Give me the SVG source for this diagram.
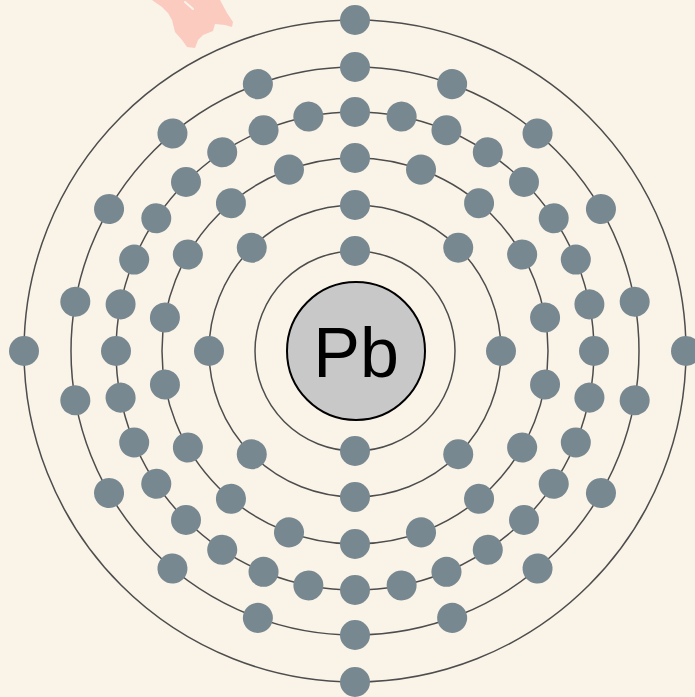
<svg xmlns="http://www.w3.org/2000/svg" width="695" height="697" viewBox="0 0 695 697">
<style>
.ring{fill:none;stroke:#4d4d4d;stroke-width:1.5}
.e{fill:#788890}
.nuc{fill:#c8c8c8;stroke:#000;stroke-width:2}
.lbl{font-family:"Liberation Sans",Arial,sans-serif;font-size:70px;fill:#000}
</style>
<rect width="695" height="697" fill="#faf3e8"/>
<path d="M152,0 L162,7 L168,13 L172,20 L175,32 L182,40 L187,47 L195,48 L198,40 L203,35 L208,33 L213,31 L215,24 L225,25 L232,27 L233,22 L227,13 L220,0 Z" fill="#fccbc0"/>
<path d="M185,2 L193,9" stroke="#faf3e8" stroke-width="2" stroke-linecap="round"/>
<g id="connectors">
<circle class="ring" cx="355" cy="351" r="100"/>
<circle class="ring" cx="355" cy="351" r="146"/>
<circle class="ring" cx="355" cy="351" r="193"/>
<circle class="ring" cx="355" cy="351" r="239"/>
<circle class="ring" cx="355" cy="351" r="284"/>
<circle class="ring" cx="355" cy="351" r="331"/>
</g>
<g id="nucleus">
<circle class="nuc" cx="356" cy="351" r="69"/>
<text class="lbl" x="356" y="377" text-anchor="middle">Pb</text>
</g>
<g id="shell1">
<circle class="e" cx="355" cy="251" r="15"/>
<circle class="e" cx="355" cy="251" r="15" transform="rotate(180 355 351)"/>
</g>
<g id="shell2">
<circle class="e" cx="355" cy="205" r="15"/>
<circle class="e" cx="355" cy="205" r="15" transform="rotate(45 355 351)"/>
<circle class="e" cx="355" cy="205" r="15" transform="rotate(90 355 351)"/>
<circle class="e" cx="355" cy="205" r="15" transform="rotate(135 355 351)"/>
<circle class="e" cx="355" cy="205" r="15" transform="rotate(180 355 351)"/>
<circle class="e" cx="355" cy="205" r="15" transform="rotate(225 355 351)"/>
<circle class="e" cx="355" cy="205" r="15" transform="rotate(270 355 351)"/>
<circle class="e" cx="355" cy="205" r="15" transform="rotate(315 355 351)"/>
</g>
<g id="shell3">
<circle class="e" cx="355" cy="158" r="15"/>
<circle class="e" cx="355" cy="158" r="15" transform="rotate(20 355 351)"/>
<circle class="e" cx="355" cy="158" r="15" transform="rotate(40 355 351)"/>
<circle class="e" cx="355" cy="158" r="15" transform="rotate(60 355 351)"/>
<circle class="e" cx="355" cy="158" r="15" transform="rotate(80 355 351)"/>
<circle class="e" cx="355" cy="158" r="15" transform="rotate(100 355 351)"/>
<circle class="e" cx="355" cy="158" r="15" transform="rotate(120 355 351)"/>
<circle class="e" cx="355" cy="158" r="15" transform="rotate(140 355 351)"/>
<circle class="e" cx="355" cy="158" r="15" transform="rotate(160 355 351)"/>
<circle class="e" cx="355" cy="158" r="15" transform="rotate(180 355 351)"/>
<circle class="e" cx="355" cy="158" r="15" transform="rotate(200 355 351)"/>
<circle class="e" cx="355" cy="158" r="15" transform="rotate(220 355 351)"/>
<circle class="e" cx="355" cy="158" r="15" transform="rotate(240 355 351)"/>
<circle class="e" cx="355" cy="158" r="15" transform="rotate(260 355 351)"/>
<circle class="e" cx="355" cy="158" r="15" transform="rotate(280 355 351)"/>
<circle class="e" cx="355" cy="158" r="15" transform="rotate(300 355 351)"/>
<circle class="e" cx="355" cy="158" r="15" transform="rotate(320 355 351)"/>
<circle class="e" cx="355" cy="158" r="15" transform="rotate(340 355 351)"/>
</g>
<g id="shell4">
<circle class="e" cx="355" cy="112" r="15"/>
<circle class="e" cx="355" cy="112" r="15" transform="rotate(11.25 355 351)"/>
<circle class="e" cx="355" cy="112" r="15" transform="rotate(22.5 355 351)"/>
<circle class="e" cx="355" cy="112" r="15" transform="rotate(33.75 355 351)"/>
<circle class="e" cx="355" cy="112" r="15" transform="rotate(45 355 351)"/>
<circle class="e" cx="355" cy="112" r="15" transform="rotate(56.25 355 351)"/>
<circle class="e" cx="355" cy="112" r="15" transform="rotate(67.5 355 351)"/>
<circle class="e" cx="355" cy="112" r="15" transform="rotate(78.75 355 351)"/>
<circle class="e" cx="355" cy="112" r="15" transform="rotate(90 355 351)"/>
<circle class="e" cx="355" cy="112" r="15" transform="rotate(101.25 355 351)"/>
<circle class="e" cx="355" cy="112" r="15" transform="rotate(112.5 355 351)"/>
<circle class="e" cx="355" cy="112" r="15" transform="rotate(123.75 355 351)"/>
<circle class="e" cx="355" cy="112" r="15" transform="rotate(135 355 351)"/>
<circle class="e" cx="355" cy="112" r="15" transform="rotate(146.25 355 351)"/>
<circle class="e" cx="355" cy="112" r="15" transform="rotate(157.5 355 351)"/>
<circle class="e" cx="355" cy="112" r="15" transform="rotate(168.75 355 351)"/>
<circle class="e" cx="355" cy="112" r="15" transform="rotate(180 355 351)"/>
<circle class="e" cx="355" cy="112" r="15" transform="rotate(191.25 355 351)"/>
<circle class="e" cx="355" cy="112" r="15" transform="rotate(202.5 355 351)"/>
<circle class="e" cx="355" cy="112" r="15" transform="rotate(213.75 355 351)"/>
<circle class="e" cx="355" cy="112" r="15" transform="rotate(225 355 351)"/>
<circle class="e" cx="355" cy="112" r="15" transform="rotate(236.25 355 351)"/>
<circle class="e" cx="355" cy="112" r="15" transform="rotate(247.5 355 351)"/>
<circle class="e" cx="355" cy="112" r="15" transform="rotate(258.75 355 351)"/>
<circle class="e" cx="355" cy="112" r="15" transform="rotate(270 355 351)"/>
<circle class="e" cx="355" cy="112" r="15" transform="rotate(281.25 355 351)"/>
<circle class="e" cx="355" cy="112" r="15" transform="rotate(292.5 355 351)"/>
<circle class="e" cx="355" cy="112" r="15" transform="rotate(303.75 355 351)"/>
<circle class="e" cx="355" cy="112" r="15" transform="rotate(315 355 351)"/>
<circle class="e" cx="355" cy="112" r="15" transform="rotate(326.25 355 351)"/>
<circle class="e" cx="355" cy="112" r="15" transform="rotate(337.5 355 351)"/>
<circle class="e" cx="355" cy="112" r="15" transform="rotate(348.75 355 351)"/>
</g>
<g id="shell5">
<circle class="e" cx="355" cy="67" r="15"/>
<circle class="e" cx="355" cy="67" r="15" transform="rotate(20 355 351)"/>
<circle class="e" cx="355" cy="67" r="15" transform="rotate(40 355 351)"/>
<circle class="e" cx="355" cy="67" r="15" transform="rotate(60 355 351)"/>
<circle class="e" cx="355" cy="67" r="15" transform="rotate(80 355 351)"/>
<circle class="e" cx="355" cy="67" r="15" transform="rotate(100 355 351)"/>
<circle class="e" cx="355" cy="67" r="15" transform="rotate(120 355 351)"/>
<circle class="e" cx="355" cy="67" r="15" transform="rotate(140 355 351)"/>
<circle class="e" cx="355" cy="67" r="15" transform="rotate(160 355 351)"/>
<circle class="e" cx="355" cy="67" r="15" transform="rotate(180 355 351)"/>
<circle class="e" cx="355" cy="67" r="15" transform="rotate(200 355 351)"/>
<circle class="e" cx="355" cy="67" r="15" transform="rotate(220 355 351)"/>
<circle class="e" cx="355" cy="67" r="15" transform="rotate(240 355 351)"/>
<circle class="e" cx="355" cy="67" r="15" transform="rotate(260 355 351)"/>
<circle class="e" cx="355" cy="67" r="15" transform="rotate(280 355 351)"/>
<circle class="e" cx="355" cy="67" r="15" transform="rotate(300 355 351)"/>
<circle class="e" cx="355" cy="67" r="15" transform="rotate(320 355 351)"/>
<circle class="e" cx="355" cy="67" r="15" transform="rotate(340 355 351)"/>
</g>
<g id="shell6">
<circle class="e" cx="355" cy="20" r="15"/>
<circle class="e" cx="355" cy="20" r="15" transform="rotate(90 355 351)"/>
<circle class="e" cx="355" cy="20" r="15" transform="rotate(180 355 351)"/>
<circle class="e" cx="355" cy="20" r="15" transform="rotate(270 355 351)"/>
</g>
</svg>
